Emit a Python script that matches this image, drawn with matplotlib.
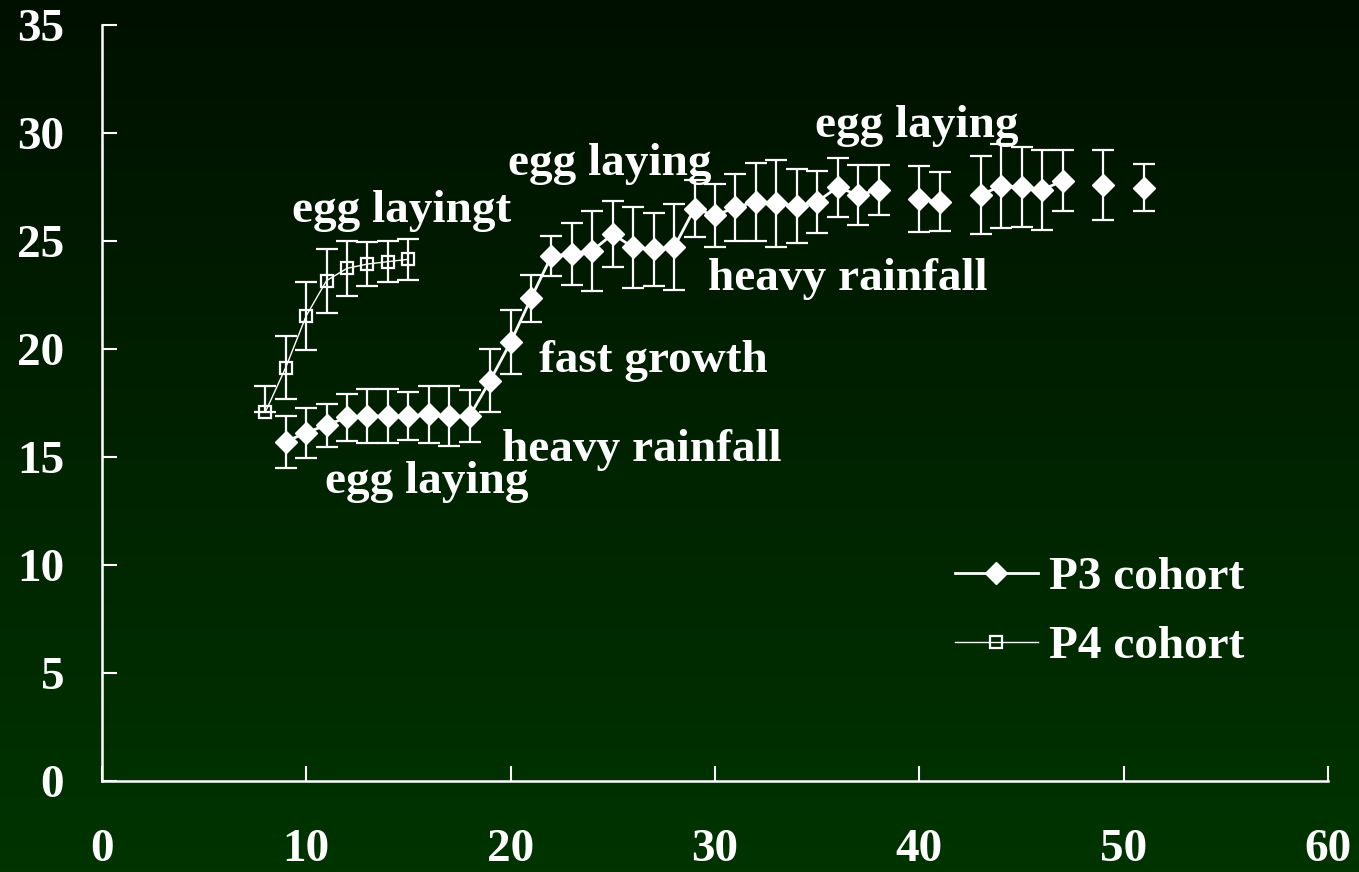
import numpy as np
import pandas as pd
import matplotlib
matplotlib.use("Agg")
import matplotlib.pyplot as plt
from matplotlib.lines import Line2D

# ---- data -------------------------------------------------------------
p3_weeks = [9, 10, 11, 12, 13, 14, 15, 16, 17, 18, 19, 20, 21, 22, 23, 24,
            25, 26, 27, 28, 29, 30, 31, 32, 33, 34, 35, 36, 37, 38,
            40, 41, 43, 44, 45, 46, 47, 49, 51]
p3_mean = [15.70, 16.12, 16.47, 16.83, 16.89, 16.89, 16.89, 16.97, 16.89, 16.89,
           18.53, 20.30, 22.34, 24.30, 24.40, 24.55, 25.32, 24.70, 24.61, 24.71,
           26.50, 26.18, 26.55, 26.82, 26.74, 26.62, 26.82, 27.49, 27.13, 27.36,
           26.93, 26.82, 27.13, 27.55, 27.50, 27.36, 27.79, 27.59, 27.47]
p3_err = [1.20, 1.16, 1.00, 1.10, 1.23, 1.27, 1.10, 1.33, 1.37, 1.20,
          1.45, 1.48, 1.08, 0.93, 1.43, 1.85, 1.55, 1.87, 1.70, 2.00,
          1.30, 1.48, 1.53, 1.80, 2.03, 1.70, 1.43, 1.37, 1.37, 1.14,
          1.53, 1.37, 1.80, 1.94, 1.86, 1.84, 1.41, 1.64, 1.09]

p4_weeks = [8, 9, 10, 11, 12, 13, 14, 15]
p4_mean = [17.06, 19.13, 21.52, 23.16, 23.73, 23.93, 24.04, 24.15]
p4_err_lo = [0.00, 1.47, 1.57, 1.48, 1.26, 1.00, 0.95, 0.96]
p4_err_hi = [1.24, 1.47, 1.57, 1.48, 1.26, 1.00, 0.95, 0.96]

series_labels = ["P3 cohort", "P4 cohort"]

notes = ["egg layingt", "egg laying", "egg laying", "heavy rainfall",
         "fast growth", "heavy rainfall", "egg laying"]
note_x = [9.30, 19.89, 34.90, 29.68, 21.41, 19.57, 10.92]
note_y = [25.89, 28.05, 29.83, 22.73, 18.94, 14.82, 13.31]

x_ticks = [0, 10, 20, 30, 40, 50, 60]
y_ticks = [0, 5, 10, 15, 20, 25, 30, 35]

# ---- style ------------------------------------------------------------
FONT = "Liberation Serif"
FS = 34
WHITE = "white"

fig = plt.figure(figsize=(13.59, 8.72), dpi=100)

# vertical dark-green gradient background
bg = fig.add_axes([0, 0, 1, 1], zorder=-10)
grad = np.linspace(0, 1, 256).reshape(-1, 1)
top = np.array([0, 16, 0]) / 255
bottom = np.array([0, 52, 0]) / 255
img = top + (bottom - top) * grad[..., None]
bg.imshow(img, aspect="auto", extent=[0, 1, 0, 1], origin="upper")
bg.set_axis_off()

ax = fig.add_axes([0.0748, 0.1047, 0.9026, 0.8666])
ax.patch.set_alpha(0)

# P3: connecting line broken at weeks without a sample
p3_line = pd.Series(p3_mean, index=p3_weeks).reindex(range(min(p3_weeks), max(p3_weeks) + 1))
ax.plot(p3_line.index, p3_line.values, color=WHITE, lw=2.0, zorder=3)
ax.errorbar(p3_weeks, p3_mean, yerr=p3_err, fmt="D", color=WHITE, ms=11,
            mec=WHITE, mfc=WHITE, ecolor=WHITE, elinewidth=1.6, capsize=8,
            capthick=1.6, zorder=4)

# P4: thin line, open squares
ax.plot(p4_weeks, p4_mean, color=WHITE, lw=1.0, zorder=3)
ax.errorbar(p4_weeks, p4_mean, yerr=[p4_err_lo, p4_err_hi], fmt="s",
            color=WHITE, ms=9, mec=WHITE, mfc="none", mew=1.6, ecolor=WHITE,
            elinewidth=1.6, capsize=8, capthick=1.6, zorder=4)

for txt, x, y in zip(notes, note_x, note_y):
    ax.text(x, y, txt, color=WHITE, fontsize=FS, fontweight="bold",
            family=FONT, ha="left", va="baseline", zorder=5)

ax.set_xlim(0, 60)
ax.set_ylim(0, 35)
ax.set_xticks(x_ticks)
ax.set_yticks(y_ticks)
for s in ("top", "right"):
    ax.spines[s].set_visible(False)
for s in ("left", "bottom"):
    ax.spines[s].set_color(WHITE)
    ax.spines[s].set_linewidth(1.8)
ax.tick_params(axis="both", direction="in", colors=WHITE, width=1.5,
               length=10.5, labelsize=FS)
ax.tick_params(axis="y", pad=27)
ax.tick_params(axis="x", pad=35)
for lab in ax.get_xticklabels() + ax.get_yticklabels():
    lab.set_fontfamily(FONT)
    lab.set_fontweight("bold")
    lab.set_color(WHITE)

handles = [
    Line2D([], [], color=WHITE, lw=2.0, marker="D", ms=11, mfc=WHITE, mec=WHITE),
    Line2D([], [], color=WHITE, lw=1.0, marker="s", ms=9, mfc="none", mec=WHITE, mew=1.6),
]
leg = ax.legend(handles, series_labels, loc="upper left",
                bbox_to_anchor=(0.6957, 0.297), frameon=False, borderpad=0,
                borderaxespad=0, handlelength=1.75, handletextpad=0.25,
                labelspacing=0.55,
                prop={"family": FONT, "weight": "bold", "size": FS})
for t in leg.get_texts():
    t.set_color(WHITE)

fig.savefig("out.png", dpi=100)
